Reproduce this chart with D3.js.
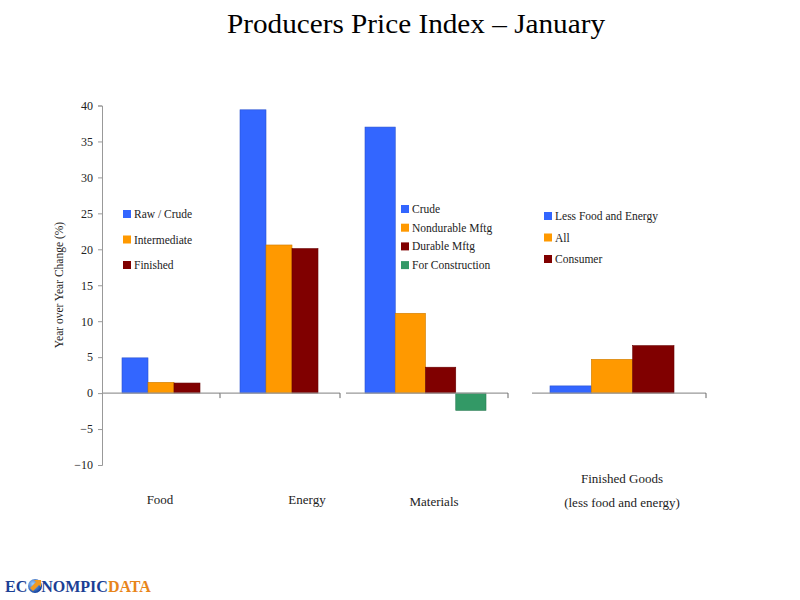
<!DOCTYPE html>
<html>
<head>
<meta charset="utf-8">
<script src="https://cdn.jsdelivr.net/npm/d3@7"></script>
<style>
  body { margin: 0; background: #fff; }
  text { font-family: "Liberation Serif", "DejaVu Serif", serif; fill: #222; }
</style>
</head>
<body>
<div id="chart"></div>
<script>
// data
var categories = ['Food', 'Energy', 'Materials', 'Finished Goods'];
var foodSeries = ['Raw / Crude', 'Intermediate', 'Finished'];
var foodValues = [4.9, 1.5, 1.4];
var energySeries = ['Raw / Crude', 'Intermediate', 'Finished'];
var energyValues = [39.4, 20.6, 20.1];
var materialsSeries = ['Crude', 'Nondurable Mftg', 'Durable Mftg', 'For Construction'];
var materialsValues = [37.0, 11.1, 3.6, -2.4];
var finishedSeries = ['Less Food and Energy', 'All', 'Consumer'];
var finishedValues = [1.0, 4.7, 6.6];
var yTicks = [-10, -5, 0, 5, 10, 15, 20, 25, 30, 35, 40];

var colors = ['#3366ff', '#ff9900', '#800000', '#339966'];

var width = 800, height = 600;
var svg = d3.select('#chart').append('svg')
  .attr('width', width).attr('height', height);

var y = d3.scaleLinear().domain([-10, 40]).range([465, 105.5]);

// title
svg.append('text')
  .attr('x', 227).attr('y', 33)
  .attr('font-size', '27px')
  .attr('textLength', 378).attr('lengthAdjust', 'spacingAndGlyphs')
  .style('fill', '#000')
  .text('Producers Price Index \u2013 January');

// y axis
var yAxis = svg.append('g')
  .attr('transform', 'translate(102,0)')
  .call(d3.axisLeft(y).tickValues(yTicks).tickSize(4).tickPadding(5));
yAxis.select('.domain').attr('stroke', '#999');
yAxis.selectAll('.tick line').attr('stroke', '#999');
yAxis.selectAll('.tick text')
  .style('font-family', '"Liberation Serif", serif')
  .attr('font-size', '12px').style('fill', '#222');

svg.append('text')
  .attr('transform', 'translate(63,285) rotate(-90)')
  .attr('text-anchor', 'middle')
  .attr('font-size', '11.5px')
  .text('Year over Year Change (%)');

// one panel per category
var groups = [
  { name: categories[0], series: foodSeries, values: foodValues,
    line: [102, 220], bars: [122, 200], legend: [123, 214, 25.5],
    label: [[160, 504, 'Food']] },
  { name: categories[1], series: energySeries, values: energyValues,
    line: [220, 340], bars: [240, 318], legend: null,
    label: [[307, 504, 'Energy']] },
  { name: categories[2], series: materialsSeries, values: materialsValues,
    line: [346, 508], bars: [365, 486], legend: [401, 209, 18.7],
    label: [[434, 506, 'Materials']] },
  { name: categories[3], series: finishedSeries, values: finishedValues,
    line: [532, 706], bars: [550, 674], legend: [544, 216, 21.5],
    label: [[622, 483, 'Finished Goods'], [622, 507, '(less food and energy)']] }
];

groups.forEach(function (g) {
  var x = d3.scaleBand().domain(g.series).range(g.bars).paddingInner(0).paddingOuter(0);
  var panel = svg.append('g');

  panel.selectAll('rect.bar')
    .data(g.values)
    .enter().append('rect')
    .attr('class', 'bar')
    .attr('x', function (d, i) { return x(g.series[i]); })
    .attr('width', x.bandwidth())
    .attr('y', function (d) { return y(Math.max(0, d)); })
    .attr('height', function (d) { return Math.abs(y(d) - y(0)); })
    .attr('fill', function (d, i) { return colors[i]; })
    .attr('stroke', function (d, i) { return d3.color(colors[i]).darker(0.6); })
    .attr('stroke-width', 0.6);

  // zero line with end tick
  panel.append('line')
    .attr('x1', g.line[0]).attr('x2', g.line[1])
    .attr('y1', y(0)).attr('y2', y(0))
    .attr('stroke', '#999').attr('stroke-width', 1.2);
  panel.append('line')
    .attr('x1', g.line[1]).attr('x2', g.line[1])
    .attr('y1', y(0)).attr('y2', y(0) + 5)
    .attr('stroke', '#666');

  if (g.legend) {
    var lg = panel.append('g');
    g.series.forEach(function (s, i) {
      var cy = g.legend[1] + i * g.legend[2];
      lg.append('rect')
        .attr('x', g.legend[0]).attr('y', cy - 4)
        .attr('width', 8).attr('height', 8)
        .attr('fill', colors[i]);
      lg.append('text')
        .attr('x', g.legend[0] + 11).attr('y', cy + 4)
        .attr('font-size', '11.5px')
        .text(s);
    });
  }

  g.label.forEach(function (l) {
    panel.append('text')
      .attr('x', l[0]).attr('y', l[1])
      .attr('text-anchor', 'middle')
      .attr('font-size', '13px')
      .text(l[2]);
  });
});

// logo
var logo = svg.append('g').attr('transform', 'translate(4,592)');
var defs = svg.append('defs');
var grad = defs.append('radialGradient').attr('id', 'globe')
  .attr('cx', '35%').attr('cy', '35%').attr('r', '70%');
grad.append('stop').attr('offset', '0%').attr('stop-color', '#9fd0ff');
grad.append('stop').attr('offset', '100%').attr('stop-color', '#0b3b9a');
logo.append('circle').attr('cx', 31).attr('cy', -6).attr('r', 7)
  .attr('fill', 'url(#globe)');
logo.append('path').attr('d', 'M26,-4 L32,-10 L30,-12 L37,-12 L37,-5 L35,-7 L29,-1 Z')
  .attr('fill', '#f29a1e');
var logoText = logo.append('text')
  .attr('x', 1).attr('y', 0)
  .attr('font-size', '16px').attr('font-weight', 'bold')
  .style('fill', '#1b3f95');
logoText.append('tspan').text('EC');
logoText.append('tspan').attr('dx', 14).style('fill', '#1b3f95').text('NOMPIC');
logoText.append('tspan').style('fill', '#e8851a').text('DATA');
</script>
</body>
</html>
